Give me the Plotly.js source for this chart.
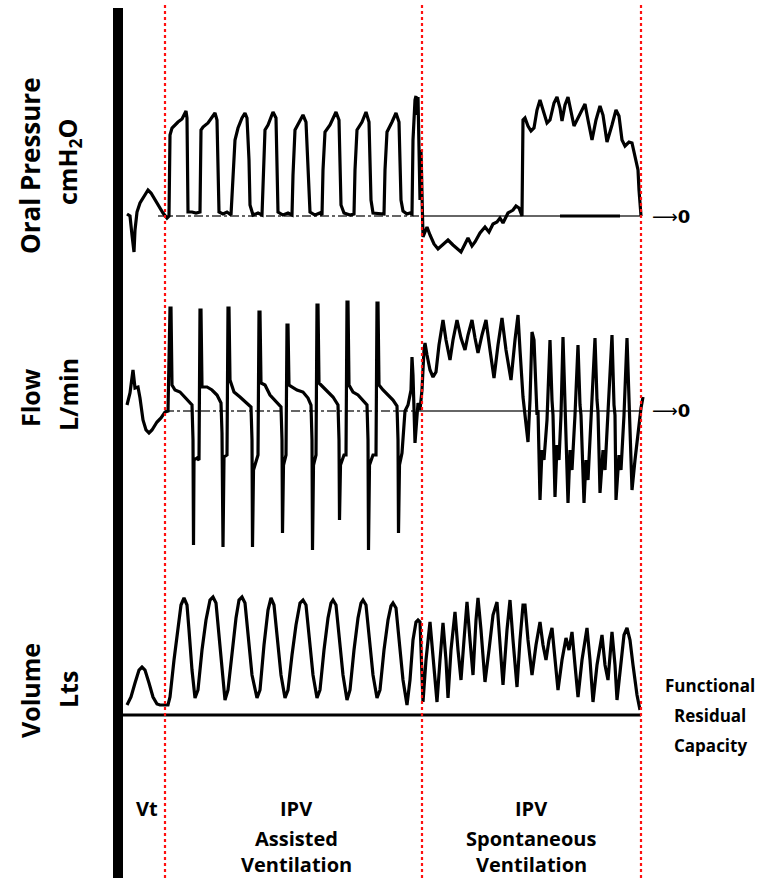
<!DOCTYPE html>
<html>
<head>
<meta charset="utf-8">
<script src="https://cdn.plot.ly/plotly-3.0.1.min.js"></script>
<style>html,body{margin:0;padding:0;background:#fff;}#chart{width:760px;height:878px;}</style>
</head>
<body>
<div id="chart"></div>
<script>
// ---------- DATA (time in arbitrary sample units across the recording) ----------
// Oral pressure, cmH2O
const pressureTime = [127,130,132,134,135,137,140,144,148,151,155,159,163,167,
  169,170,172,178,182,186,187,188,192,196,200,
  201,203,208,212,215,217,219,223,227,231,
  233,235,238,242,245,247,249,250,253,258,262,
  263,265,268,273,276,278,283,288,292,
  293,295,299,303,306,308,310,315,320,322,
  323,325,330,336,339,341,344,350,354,
  355,357,362,366,369,371,373,380,384,
  385,387,392,396,399,401,403,407,410,412,
  413,414,415,416,417,418,419,420,421,422,423,
  425,427,430,434,438,443,448,453,458,461,465,468,472,475,480,485,489,493,497,500,503,508,513,516,519,521,522,
  523,525,528,531,534,537,540,543,547,550,554,557,560,562,565,568,571,574,578,582,585,588,592,596,600,603,607,612,616,619,622,625,629,632,635,638,639,641];
const pressureValue = [0.5,0,-4.8,-9,-3.5,1,3.25,5,6.5,5.75,4,2.25,0.75,-0.5,
  0,20.25,22,23.5,24.25,26.25,24.5,1,1,0.75,1,
  21.5,22.25,23.25,24.75,25.75,24,1,0.5,1,0.25,
  9,19,22,24.5,25.75,24.5,14,2.75,0.25,0.75,0.25,
  9,21.5,22.75,26,24.5,1,0.25,0.75,0.25,
  10.25,21.5,23.5,25.25,23.5,11.5,1,0.25,0.75,0.25,
  11.5,21,22.75,26,24,2.75,0.75,0.25,0.5,
  11.5,21.5,23.5,26,23.5,4,0.75,0.5,0.5,
  11.5,21,23.5,25.75,23.5,4,1.25,0.5,0.75,0.5,
  19,25.25,29,30,25.25,29.75,19,4,16.5,1.5,-5.25,
  -4,-2.75,-4.75,-7,-8.25,-7.25,-6,-7.25,-8.5,-9,-7,-5.5,-7.5,-6.5,-4.25,-2.75,-4,-2,-1.5,-0.5,-1.75,0.75,1.5,2.5,2,0.5,0,
  24,24.5,22.5,21.25,22,26.5,29,26.5,23.25,24,28.25,29.75,27,23.75,27.75,29.75,26,22.5,24.5,26.5,28,24,19,24,27.5,25.25,18.5,22.75,26.5,25,19,17.5,18.5,18.25,15.25,11.5,6.5,0];
// short trace segment resting on the zero line
const pressureMarkTime = [560,620];
const pressureMarkValue = [0,0];

// Flow, L/min
const flowTime = [127,130,133,135,138,140,143,146,149,152,157,161,165,
  168,170,171,172,175,180,185,190,192,193,193.5,194,197,199,
  200,201,202,207,212,217,221,222,223,224,227,
  228,229,230,234,240,246,251,252,252.5,253.5,256,258,
  259,260,261,265,270,276,281,282,282.5,283.5,286,
  287,288,289,292,297,303,308,311,312,312.5,313.5,316,
  317,318,319,323,328,333,338,339,339.5,340.5,344,346,
  347,348,349,353,358,363,367,368,368.5,369.5,373,376,
  377,378,379,383,388,393,397,398,398.5,399.5,402,405,408,411,412,413,415,417,418,420,422,424,425,
  427,430,433,436,439,443,446,450,453,457,461,465,468,472,475,478,482,486,490,494,498,502,506,511,515,518,520,523,525,528,530,532,
  534,536,537,538,540,542,544,547,550,552,553,555,557,559,561,563,565,566,568,570,572,575,578,580,581,584,586,588,591,595,597,598,600,603,605,608,612,614,615,616,619,621,624,627,629,630,632,635,638,641,643];
const flowValue = [3,9,20.5,11.5,12,6.5,-4.5,-9.5,-11,-9.5,-5.5,-3.5,-0.5,
  0,51.5,51.5,13,10.5,9.5,7,4,3,-14.5,-67,-24.5,-23.5,-24.5,
  50.5,50.5,12,12,10.5,8,4,-11,-68,-23,-22,
  51.5,51.5,15.5,9.5,7,4.5,2,-14.5,-68,-29.5,-24.5,-22,
  49.5,49.5,14,13,8,4.5,2,-14.5,-61,-27,-22,
  43,43,13,12,10.5,9.5,6.5,3,-14.5,-69.5,-27,-22,
  53,53,14,12,9.5,7,3,-14.5,-54.5,-27,-22,-22,
  54.5,54.5,13,9.5,8,5.5,3,-14.5,-69.5,-27,-22,-22,
  54,54,13,10.5,8,5.5,2.5,-14.5,-61,-27,-21,0,3,10.5,27,18,-16,-4.5,4,0.5,10.5,30.5,34,
  28,20.5,17,19.5,33,45.5,35.5,25.5,35.5,45.5,36.5,30.5,38,45.5,36.5,29,38,45.5,30.5,16.5,33,46.5,30.5,15.5,35.5,48,30.5,7,-2,-15.5,5.5,39.5,
  35.5,5.5,-2,0.5,-44.5,-19.5,-24.5,-4.5,35.5,5.5,-2,-43,-17,-24.5,-2,37,3,-1,-46,-19.5,-29.5,-2,33,3,-2,-46,-24.5,-34.5,-4.5,36.5,5.5,-0.5,-41,-19.5,-29.5,-2,38,3,-2,-44.5,-22,-29.5,-2,36.5,3,-2,-39.5,-24.5,-9.5,1.5,7];

// Volume, litres above functional residual capacity
const volumeTime = [127,131,135,139,142,145,149,153,157,160,
  168,170,174,178,181,184,187,189,192,195,
  198,202,206,210,213,216,219,222,225,
  228,232,236,239,242,245,248,252,257,
  260,264,268,271,274,277,281,285,
  288,292,296,300,303,306,309,313,317,
  320,324,328,331,333,336,339,343,347,
  350,354,358,361,363,366,369,373,377,
  380,384,388,391,393,396,399,403,407,
  410,413,416,418,420,423,426,430,433,437,440,443,446,448,451,455,458,461,464,467,470,473,476,478,481,485,489,493,497,500,503,507,510,513,517,520,523,525,528,532,536,540,543,546,549,552,555,558,562,566,569,572,575,578,582,587,590,593,597,602,605,608,612,615,617,621,624,627,630,633,637,640];
const volumeValue = [0.10,0.18,0.32,0.45,0.48,0.45,0.32,0.18,0.11,0.10,
  0.10,0.18,0.55,0.90,1.10,1.17,1.10,0.85,0.45,0.17,
  0.25,0.65,0.95,1.15,1.18,1.12,0.80,0.40,0.15,
  0.25,0.65,0.97,1.15,1.18,1.12,0.80,0.40,0.17,
  0.25,0.70,1.05,1.17,1.10,0.80,0.40,0.17,
  0.25,0.60,0.90,1.12,1.15,1.10,0.80,0.40,0.17,
  0.25,0.65,0.97,1.12,1.15,1.10,0.80,0.40,0.15,
  0.25,0.65,0.97,1.12,1.15,1.10,0.80,0.40,0.17,
  0.25,0.65,0.95,1.09,1.12,1.07,0.75,0.35,0.10,
  0.35,0.75,0.93,0.95,0.93,0.13,0.55,0.93,0.55,0.13,0.55,0.92,0.55,0.17,0.65,1.03,0.65,0.35,0.75,1.13,0.75,0.40,0.95,1.17,0.85,0.33,0.65,1.00,1.13,0.75,0.30,0.85,1.15,0.75,0.28,0.75,1.10,1.10,0.75,0.40,0.70,0.93,0.70,0.55,0.75,0.87,0.55,0.25,0.55,0.77,0.65,0.83,0.50,0.18,0.55,0.87,0.55,0.13,0.50,0.80,0.50,0.35,0.83,0.50,0.15,0.55,0.80,0.87,0.75,0.50,0.20,0.05];

// Phase boundaries (time units) and labels
const phaseBounds = [165, 422, 641];
const panelNames = ["Oral Pressure", "Flow", "Volume"];
const panelUnits = ["cmH<sub>2</sub>O", "L/min", "Lts"];
const phaseLabelLines = [["Vt"], ["IPV", "Assisted", "Ventilation"], ["IPV", "Spontaneous", "Ventilation"]];
const frcLabelLines = ["Functional", "Residual", "Capacity"];

// ---------- LAYOUT HELPERS (pixel positions -> paper) ----------
const W = 760, H = 878;
const px = x => x / W;
const py = y => 1 - y / H;

const black = '#000';
const lineW = 3.2;
const traces = [
  {x: pressureTime, y: pressureValue, xaxis: 'x', yaxis: 'y', mode: 'lines', line: {color: black, width: lineW}, hoverinfo: 'skip'},
  {x: pressureMarkTime, y: pressureMarkValue, xaxis: 'x', yaxis: 'y', mode: 'lines', line: {color: black, width: 3.2}, hoverinfo: 'skip'},
  {x: flowTime, y: flowValue, xaxis: 'x', yaxis: 'y2', mode: 'lines', line: {color: black, width: lineW}, hoverinfo: 'skip'},
  {x: volumeTime, y: volumeValue, xaxis: 'x', yaxis: 'y3', mode: 'lines', line: {color: black, width: lineW}, hoverinfo: 'skip'}
];

const shapes = [];
// thick black bar on the left
shapes.push({type: 'rect', xref: 'x', yref: 'paper', x0: 113, x1: 123, y0: 0, y1: py(8), fillcolor: black, line: {width: 0}, layer: 'above'});
// zero lines
shapes.push({type: 'line', xref: 'x', yref: 'y', x0: 158, x1: 422, y0: 0, y1: 0, line: {color: '#333', width: 1.5, dash: 'dashdot'}, layer: 'below'});
shapes.push({type: 'line', xref: 'x', yref: 'y', x0: 422, x1: 641, y0: 0, y1: 0, line: {color: '#333', width: 1.5}, layer: 'below'});
shapes.push({type: 'line', xref: 'x', yref: 'y2', x0: 165, x1: 422, y0: 0, y1: 0, line: {color: '#333', width: 1.5, dash: 'dashdot'}, layer: 'below'});
shapes.push({type: 'line', xref: 'x', yref: 'y2', x0: 422, x1: 641, y0: 0, y1: 0, line: {color: '#333', width: 1.5}, layer: 'below'});
shapes.push({type: 'line', xref: 'x', yref: 'y3', x0: 123, x1: 641, y0: 0, y1: 0, line: {color: black, width: 3}});
// red dotted phase boundaries
phaseBounds.forEach(b => shapes.push({type: 'line', xref: 'x', yref: 'paper', x0: b, x1: b, y0: 0, y1: py(5), line: {color: '#ff1010', width: 2.2, dash: 'dot'}, layer: 'above'}));

const ff = 'Open Sans, sans-serif';
const annotations = [];
const nameY = [166, 398, 691];
const unitY = [162, 395, 690];
const nameSize = [26, 25, 25];
panelNames.forEach((n, i) => {
  annotations.push({text: '<b>' + n + '</b>', x: px(30), y: py(nameY[i]), xref: 'paper', yref: 'paper', textangle: -90, showarrow: false, font: {family: ff, size: nameSize[i], color: black}, xanchor: 'center', yanchor: 'middle'});
  annotations.push({text: '<b>' + panelUnits[i] + '</b>', x: px(68), y: py(unitY[i]), xref: 'paper', yref: 'paper', textangle: -90, showarrow: false, font: {family: ff, size: 25, color: black}, xanchor: 'center', yanchor: 'middle'});
});
const phaseX = [147, 296, 531];
const phaseLineY = [808, 838, 864];
phaseLabelLines.forEach((lines, i) => {
  lines.forEach((t, j) => {
    annotations.push({text: '<b>' + t + '</b>', x: px(phaseX[i]), y: py(phaseLineY[j]), xref: 'paper', yref: 'paper', showarrow: false, font: {family: ff, size: 20, color: black}, xanchor: 'center', yanchor: 'middle'});
  });
});
const frcY = [685, 715, 745];
frcLabelLines.forEach((t, j) => {
  annotations.push({text: '<b>' + t + '</b>', x: px(710), y: py(frcY[j]), xref: 'paper', yref: 'paper', showarrow: false, font: {family: ff, size: 17, color: black}, xanchor: 'center', yanchor: 'middle'});
});
['y', 'y2'].forEach(ax => {
  annotations.push({text: '\u27F6<b>0</b>', x: 650, y: 0, xref: 'x', yref: ax, showarrow: false, font: {family: 'DejaVu Sans, sans-serif', size: 18, color: black}, xanchor: 'left', yanchor: 'middle'});
});

const hidden = {visible: false, showgrid: false, zeroline: false, fixedrange: true};
const layout = {
  width: W, height: H,
  margin: {l: 0, r: 0, t: 0, b: 0},
  paper_bgcolor: '#fff', plot_bgcolor: '#fff',
  showlegend: false,
  xaxis: Object.assign({range: [0, W], domain: [0, 1]}, hidden),
  yaxis: Object.assign({domain: [py(260), py(80)], range: [-11, 34]}, hidden),
  yaxis2: Object.assign({domain: [py(560), py(295)], range: [-74.5, 58]}, hidden),
  yaxis3: Object.assign({domain: [py(740), py(580)], range: [-0.25, 1.35]}, hidden),
  shapes: shapes,
  annotations: annotations
};
Plotly.newPlot('chart', traces, layout, {staticPlot: true, displayModeBar: false});
</script>
</body>
</html>
